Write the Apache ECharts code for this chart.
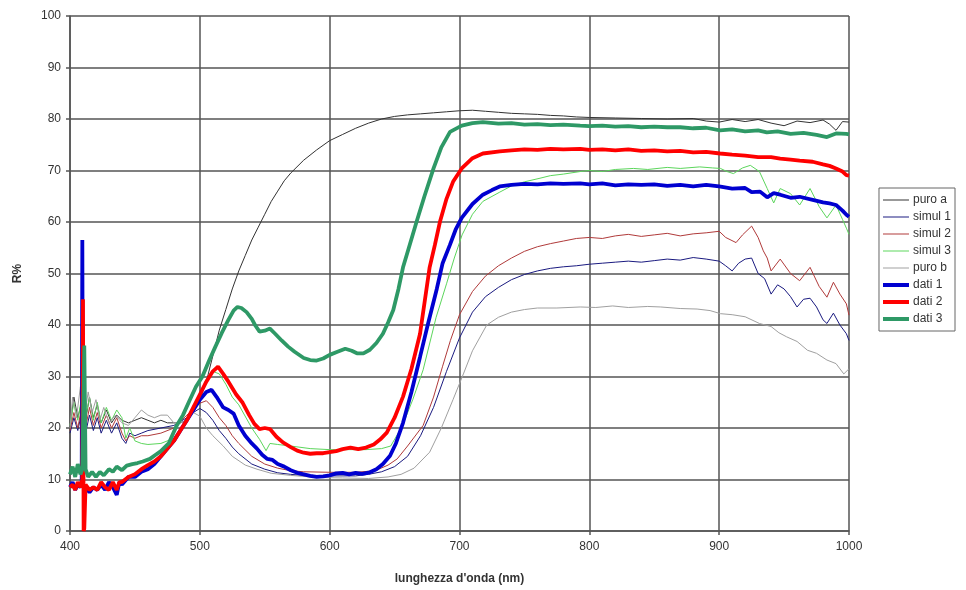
<!DOCTYPE html>
<html>
<head>
<meta charset="utf-8">
<script src="https://cdn.jsdelivr.net/npm/echarts@6/dist/echarts.min.js"></script>
<style>
  html, body { margin: 0; padding: 0; background: #fff; }
  #main { width: 966px; height: 590px; }
</style>
</head>
<body>
<div id="main"></div>
<script>
// valori: [lunghezza d'onda (nm), R%]
var xTicks = [400, 500, 600, 700, 800, 900, 1000];
var yTicks = [0, 10, 20, 30, 40, 50, 60, 70, 80, 90, 100];
var seriesNames = ['puro a', 'simul 1', 'simul 2', 'simul 3', 'puro b', 'dati 1', 'dati 2', 'dati 3'];

var puroA = [[400,20],[403,26],[406,22],[409,25],[412,21.5],[415,26],[418,22],[421,24.5],[424,21],[428,23.5],[432,21],[436,22.5],[440,21.5],[445,21],[450,21.5],[455,22],[460,21.5],[465,21],[470,21.5],[475,21],[480,21],[485,21],[490,21.5],[495,23],[500,25.5],[505,29],[510,34],[515,39],[520,43],[525,47],[530,50.5],[535,53.5],[540,56.5],[545,59],[550,61.5],[555,64],[560,66],[565,68],[570,69.5],[580,72],[590,74],[600,75.8],[610,77],[620,78.2],[630,79.2],[640,80],[650,80.5],[660,80.8],[670,81],[680,81.2],[690,81.4],[700,81.6],[710,81.7],[720,81.5],[730,81.3],[740,81.1],[750,81],[760,80.9],[770,80.7],[780,80.6],[790,80.4],[800,80.3],[820,80.2],[840,80.1],[860,80],[880,80.1],[890,79.6],[900,79.4],[910,79.9],[920,79.5],[930,79.9],[940,79.2],[950,78.7],[960,79.6],[970,79.3],[980,79.8],[985,79],[990,77.8],[995,79.5],[1000,79.4]];

var simul1 = [[400,19],[403,22],[406,19.5],[409,23],[412,19],[415,22.5],[418,19.5],[421,22],[424,19],[428,21.5],[432,19],[436,21],[440,18],[443,17],[446,19],[450,18.5],[455,19],[460,19.5],[470,20],[480,20.5],[490,22],[495,23],[500,23.8],[505,23],[510,21.5],[515,19.5],[520,18],[525,16.3],[530,15],[540,13],[550,12],[560,11.3],[570,11],[580,10.8],[600,10.7],[620,10.7],[630,11],[640,11.5],[650,12.5],[660,14.5],[670,18.5],[680,24],[690,31],[700,37.5],[710,42.5],[720,45.5],[730,47.3],[740,48.8],[750,49.8],[760,50.5],[770,51],[780,51.3],[790,51.5],[800,51.8],[810,52],[820,52.2],[830,52.4],[840,52.2],[850,52.5],[860,52.8],[870,52.6],[880,53.1],[890,52.8],[900,52.4],[905,51.5],[910,50.5],[915,52],[920,52.8],[925,53],[930,50],[935,49],[940,46],[945,47.8],[950,47],[955,45.5],[960,43.5],[965,45],[970,45.2],[975,43.5],[980,41],[983,40.3],[988,42.3],[993,40],[998,38.3],[1000,37]];

var simul2 = [[400,19.5],[403,23],[406,20],[409,24],[412,20],[415,24],[418,20.5],[421,23],[424,20],[428,22.5],[432,20],[436,22],[440,19],[443,17.5],[446,18.5],[450,18],[455,18.5],[460,18.5],[470,19],[480,20],[490,22.5],[500,24.8],[505,25.3],[510,24],[515,22],[520,20.5],[525,18.5],[530,17],[540,14.5],[550,13],[560,12.2],[570,11.7],[580,11.5],[600,11.4],[620,11.4],[635,11.7],[645,12.8],[652,14],[660,16.5],[672,20.5],[680,26],[687,32],[693,37],[700,42],[710,46.5],[720,49.5],[730,51.5],[740,53],[750,54.3],[760,55.2],[770,55.8],[780,56.3],[790,56.8],[800,57],[810,56.8],[820,57.3],[830,57.6],[840,57.2],[850,57.5],[860,57.8],[870,57.3],[880,57.7],[890,57.9],[900,58.2],[905,57],[913,56],[918,57.5],[925,59.2],[930,57],[934,54.4],[937,53],[940,50.5],[947,52.8],[955,50],[962,48.6],[970,51.2],[977,47.5],[983,45.4],[988,48.3],[993,46],[998,44.1],[1000,41.9]];

var simul3 = [[400,20.5],[403,25],[406,21.5],[409,26],[411,34],[412,22],[415,26],[418,21.5],[421,25],[424,21],[428,24],[432,21.5],[436,23.5],[440,22],[443,18],[446,20],[450,17.5],[455,17],[460,16.8],[470,17],[480,18],[490,21.5],[500,26.5],[505,29.5],[510,31],[515,30.5],[520,28.5],[525,26],[530,24.5],[540,20],[546,17.8],[551,15.6],[554,17],[560,16.8],[570,16.5],[585,16],[600,15.8],[615,15.8],[628,15.8],[640,16],[647,16.5],[656,20.4],[664,25.5],[672,31.3],[682,41.5],[690,48],[696,53],[702,57.5],[710,61.5],[718,64],[731,65.8],[740,67],[750,67.8],[762,68.5],[770,69],[780,69.3],[793,69.8],[800,70],[810,69.8],[820,70.2],[834,70.4],[845,70.2],[860,70.6],[870,70.4],[885,70.7],[895,70.5],[901,70.4],[906,69.8],[911,69.4],[918,70.5],[924,71],[931,69.8],[937,66.5],[942,63.7],[947,66.5],[955,65.5],[962,63.3],[970,66.5],[977,63],[983,60.8],[990,63.3],[995,60.5],[998,58.8],[1000,57.6]];

var puroB = [[400,20],[402,26],[405,22],[408,28],[411,22],[414,27],[417,23],[420,25.5],[423,21.5],[426,24],[430,21],[435,22.5],[440,21],[445,20.5],[450,22],[455,23.5],[460,22.5],[465,22],[470,22.5],[475,22.5],[480,21],[485,21],[490,21.5],[495,23],[500,22.3],[505,20],[510,18.5],[518,16.5],[525,14.5],[535,12.8],[544,12],[555,11.2],[570,10.8],[590,10.4],[610,10.3],[630,10.2],[645,10.5],[655,11],[665,12.2],[677,15.3],[686,20],[695,25.5],[703,30.5],[710,35],[721,40],[730,41.5],[740,42.5],[750,43],[760,43.3],[775,43.3],[793,43.5],[805,43.4],[818,43.7],[830,43.4],[845,43.6],[855,43.5],[870,43.2],[883,43.1],[893,42.8],[901,42.2],[910,42],[920,41.6],[931,40.3],[940,39.7],[946,38.5],[952,37.7],[960,36.8],[968,35.1],[975,34.5],[983,33.2],[990,32.5],[996,30.5],[1000,31.5]];

var dati1 = [[400,8.5],[402,9.5],[404,8],[406,9],[408,8.5],[409,9],[409.5,56.5],[410,9],[412,8.5],[415,7.5],[418,8.5],[421,8],[424,9],[427,8],[430,9.5],[433,8.5],[436,7],[438,9.5],[440,9],[445,10.5],[450,10.5],[455,11.5],[460,12],[465,13],[470,14.5],[475,16],[480,17.5],[485,19.5],[490,21.5],[495,23.5],[500,25.5],[505,27],[509,27.4],[513,26],[518,24],[522,23.5],[526,22.8],[530,20.5],[535,18.5],[540,17],[544,16],[548,14.8],[552,14],[556,13.8],[560,13],[565,12.5],[570,11.8],[575,11.3],[580,11],[585,10.7],[590,10.5],[595,10.6],[600,10.8],[605,11.2],[610,11.3],[615,11],[620,11.3],[625,11.1],[631,11.4],[636,12],[641,13],[646.5,14.6],[651,17],[656.5,21],[663,27],[669.6,33.8],[676,40.5],[682.5,47],[687,52],[692.7,55.6],[697,58.5],[701.7,60.8],[710,63.5],[718,65.3],[725,66.2],[731,66.9],[740,67.2],[750,67.4],[760,67.3],[770,67.5],[780,67.4],[793,67.5],[800,67.3],[810,67.5],[820,67.1],[830,67.3],[840,67.2],[850,67.3],[860,67],[870,67.2],[880,66.9],[890,67.2],[900,66.9],[910,66.5],[920,66.6],[925,65.8],[931.5,65.9],[937,64.8],[942,65.6],[947,65.3],[955,64.7],[962,64.9],[972,64.3],[980,63.8],[985,63.6],[990,63.3],[995,62.2],[998,61.4],[1000,61]];

var dati2 = [[400,8.5],[402,9],[404,8],[406,9.5],[408,8.5],[409.5,10],[410,45],[410.5,0],[411,0.5],[412,9],[415,8],[418,8.5],[421,8],[424,9.5],[427,8.5],[430,8],[433,9.5],[436,8],[438,9.5],[440,9.5],[445,10.5],[450,11],[455,12],[460,12.8],[465,13.5],[470,14.5],[475,16],[480,17.5],[485,19.5],[490,21.5],[495,24],[500,26.5],[505,29],[510,31],[514,31.9],[518,30.5],[522,29],[528,26.5],[533,24.9],[538,22.5],[542,20.8],[546,19.8],[550,20],[554,19.8],[559,18.3],[564,17.2],[570,16.3],[575,15.6],[580,15.2],[585,15],[590,15.1],[595,15.1],[600,15.3],[605,15.5],[610,15.9],[616,16.2],[622,15.9],[628,16.2],[634,16.8],[639,17.8],[644,19.1],[650,22],[656.5,26.1],[663,31.5],[669.6,38.3],[677,51.2],[681,55.5],[685,60.1],[690,64.5],[695,67.8],[701.7,70.4],[710,72.4],[718,73.3],[731,73.7],[740,73.9],[750,74.1],[760,74],[770,74.2],[780,74.1],[793,74.2],[800,74],[810,74.1],[820,73.9],[830,74.1],[840,73.8],[850,73.9],[860,73.7],[870,73.8],[880,73.5],[890,73.6],[900.7,73.3],[910,73.1],[920,72.9],[930,72.6],[940,72.6],[947,72.3],[955,72.1],[962,71.9],[972,71.7],[980,71.2],[985,70.9],[990,70.4],[995,69.8],[998,69.1],[1000,69]];

var dati3 = [[400,11],[402,12.5],[404,10.5],[406,13],[408,11],[409.5,12],[411,36],[412,12],[414,10.5],[417,11.5],[420,10.5],[423,11.5],[426,10.8],[430,12],[433,11.5],[436,12.5],[440,11.8],[443.7,12.7],[448,13],[452,13.2],[456,13.5],[461.6,14],[466,14.8],[470,15.5],[476,17],[482,20.4],[487,22.5],[492,25.3],[497,28],[502,30],[507,33],[512,35.8],[517,38.5],[522,41],[526,42.8],[529,43.5],[532,43.3],[536,42.5],[540,41.2],[543,39.8],[546,38.7],[550,38.9],[554,39.3],[558,38.3],[563,37],[568,35.8],[573,34.8],[580,33.6],[585,33.2],[590,33.1],[595,33.5],[600,34.2],[606,34.8],[612,35.4],[617,35],[621,34.5],[626,34.5],[631,35.2],[636,36.5],[641,38.3],[645,40.5],[649,42.9],[653,47],[656.5,51.2],[661,55],[667,60.1],[673,65],[680,70.4],[686,74.5],[692.7,77.5],[701.7,78.7],[710,79.2],[718,79.4],[730,79.1],[740,79.2],[750,78.9],[760,79],[770,78.8],[780,78.9],[793,78.7],[800,78.6],[810,78.7],[820,78.5],[830,78.6],[840,78.4],[850,78.5],[860,78.4],[870,78.4],[880,78.2],[890,78.3],[900.7,77.8],[910,78],[920,77.6],[930,77.8],[936.7,77.4],[945,77.6],[955,77.1],[965,77.3],[975,76.9],[983,76.5],[990,77.2],[998,77.1],[1000,77]];

var seriesData = [puroA, simul1, simul2, simul3, puroB, dati1, dati2, dati3];
var colors = ['#333333', '#1a1a80', '#b03a3a', '#5cd65c', '#a0a0a0', '#0000d0', '#ff0000', '#2e9966'];
var widths = [1, 1, 1, 1, 1, 3.8, 3.8, 3.8];

var myChart = echarts.init(document.getElementById('main'), null, { renderer: 'canvas' });

var series = [];
var legendData = [];
for (var i = 0; i < seriesNames.length; i++) {
    series.push({
        name: seriesNames[i],
        type: 'line',
        data: seriesData[i],
        symbol: 'none',
        showSymbol: false,
        smooth: false,
        lineStyle: { color: colors[i], width: widths[i] },
        itemStyle: { color: colors[i] },
        z: i < 5 ? 2 : 3
    });
    // campione di linea nella legenda: sottile per simulazioni, spesso per dati
    legendData.push({
        name: seriesNames[i],
        icon: widths[i] > 2 ? 'path://M0,0H26V4H0Z' : 'path://M0,0H26V1H0Z'
    });
}

var option = {
    animation: false,
    backgroundColor: '#ffffff',
    textStyle: { fontFamily: 'Liberation Sans, Arial, sans-serif' },
    grid: { left: 70, right: 117, top: 16, bottom: 54 },
    legend: {
        data: legendData,
        orient: 'vertical',
        right: 11,
        top: 188,
        padding: [6, 4, 6, 4],
        itemWidth: 26,
        itemHeight: 14,
        itemGap: 5,
        symbolKeepAspect: true,
        borderColor: '#666',
        borderWidth: 1,
        backgroundColor: '#fff',
        textStyle: { fontSize: 12, color: '#333', padding: [0, 0, 0, -1] }
    },
    xAxis: {
        type: 'value',
        min: xTicks[0],
        max: xTicks[xTicks.length - 1],
        interval: 100,
        name: "lunghezza d'onda (nm)",
        nameLocation: 'middle',
        nameGap: 42,
        nameTextStyle: { fontSize: 12, fontWeight: 'bold', color: '#333' },
        axisLine: { lineStyle: { color: '#555', width: 1.5 } },
        axisTick: { show: true, inside: false, length: 4, lineStyle: { color: '#555', width: 1.5 } },
        axisLabel: { fontSize: 12, color: '#333', margin: 10, formatter: function (v) { return String(v); } },
        splitLine: { show: true, lineStyle: { color: '#555', width: 1.5 } }
    },
    yAxis: {
        type: 'value',
        min: yTicks[0],
        max: yTicks[yTicks.length - 1],
        interval: 10,
        name: 'R%',
        nameLocation: 'middle',
        nameGap: 46,
        nameTextStyle: { fontSize: 12, fontWeight: 'bold', color: '#333' },
        axisLine: { show: true, lineStyle: { color: '#555', width: 1.5 } },
        axisTick: { show: true, inside: false, length: 4, lineStyle: { color: '#555', width: 1.5 } },
        axisLabel: { fontSize: 12, color: '#333', margin: 9 },
        splitLine: { show: true, lineStyle: { color: '#555', width: 1.5 } }
    },
    series: series
};

myChart.setOption(option);
</script>
</body>
</html>
